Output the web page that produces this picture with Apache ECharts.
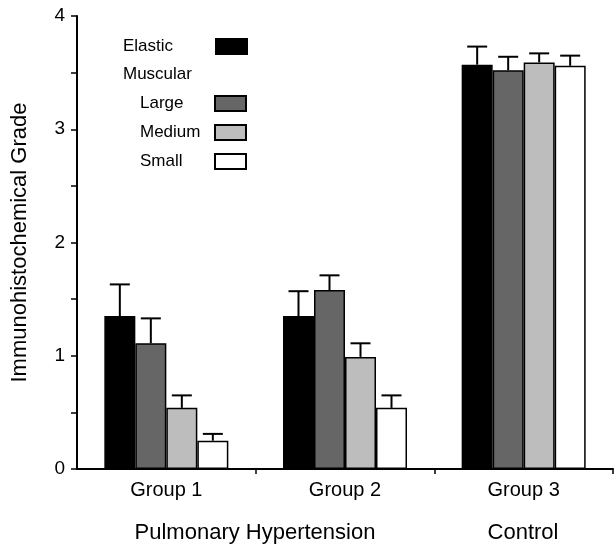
<!DOCTYPE html>
<html>
<head>
<meta charset="utf-8">
<script src="https://cdn.jsdelivr.net/npm/echarts@6/dist/echarts.min.js"></script>
<style>
html,body{margin:0;padding:0;background:#fff;}
#chart{width:615px;height:545px;}
</style>
</head>
<body>
<div id="chart"></div>
<script>
/* ---------- data ---------- */
const groups = ['Group 1','Group 2','Group 3'];
const seriesNames = ['Elastic','Large','Medium','Small'];
const elastic  = [1.35, 1.35, 3.57];
const large    = [1.11, 1.58, 3.52];
const medium   = [0.54, 0.99, 3.59];
const small    = [0.25, 0.54, 3.56];
const elasticErr = [0.28, 0.22, 0.16];
const largeErr   = [0.22, 0.13, 0.12];
const mediumErr  = [0.11, 0.12, 0.08];
const smallErr   = [0.06, 0.11, 0.09];
const yTicks = [0,1,2,3,4];

const values = [elastic, large, medium, small];
const errs = [elasticErr, largeErr, mediumErr, smallErr];
const fills = ['#000000','#666666','#bdbdbd','#ffffff'];
const BAR_W = 31;
const FONT = 'Liberation Sans, Arial, sans-serif';

/* ---------- series ---------- */
const series = [];
values.forEach((vals,i)=>{
  series.push({
    name: seriesNames[i], type:'bar', data: vals,
    barWidth: BAR_W, barGap: '0%',
    itemStyle:{color: fills[i], borderColor:'#000', borderWidth:1.5},
    silent:true
  });
});
// error bars (upper only), drawn over each bar's centre
values.forEach((vals,i)=>{
  series.push({
    type:'custom', silent:true, z:1,
    data: vals.map((v,k)=>[k, v, v+errs[i][k]]),
    renderItem:(params, api)=>{
      const c = api.coord([api.value(0), api.value(1)]);
      const top = api.coord([api.value(0), api.value(2)]);
      const x = c[0] + (i-1.5)*BAR_W;
      const st = {stroke:'#000', lineWidth:2};
      return {type:'group', children:[
        {type:'line', shape:{x1:x,y1:c[1],x2:x,y2:top[1]}, style:st},
        {type:'line', shape:{x1:x-10,y1:top[1],x2:x+10,y2:top[1]}, style:st}
      ]};
    }
  });
});

const chart = echarts.init(document.getElementById('chart'));
const legendText = w => ({fontFamily:FONT, fontSize:17, color:'#000', lineHeight:15,
  rich:{a:{width:w, align:'left', fontFamily:FONT, fontSize:17, color:'#000', lineHeight:15}}});
const legendBase = {
  orient:'vertical', align:'right', itemWidth:31, itemHeight:15, itemGap:12,
  icon:'rect', selectedMode:false, padding:0,
  formatter:n=>'{a|'+n+'}'
};
chart.setOption({
  animation:false,
  grid:{left:77, right:2, top:16, bottom:76, outerBoundsMode:'none', containLabel:false},
  xAxis:{
    type:'category', data: groups,
    axisLine:{lineStyle:{color:'#000', width:2}},
    axisTick:{show:true, length:5, interval:(i)=> i>0 && i<3, lineStyle:{color:'#000', width:1.5}},
    axisLabel:{color:'#000', fontFamily:FONT, fontSize:20, margin:11}
  },
  yAxis:{
    type:'value', min:0, max:4, interval:0.5,
    name:'Immunohistochemical Grade', nameLocation:'middle', nameGap:46, nameRotate:90,
    nameTextStyle:{color:'#000', fontFamily:FONT, fontSize:22},
    axisLine:{show:true, lineStyle:{color:'#000', width:2}},
    axisTick:{show:true, length:6, lineStyle:{color:'#000', width:1.5}},
    splitLine:{show:false},
    axisLabel:{color:'#000', fontFamily:FONT, fontSize:19, margin:12,
      formatter: v => yTicks.includes(v) ? String(v) : ''}
  },
  legend:[
    Object.assign({}, legendBase, {data:['Elastic'], left:123, top:38, textStyle:legendText(88)}),
    Object.assign({}, legendBase, {data:['Large','Medium','Small'], left:140, top:95, textStyle:legendText(70)})
  ],
  graphic:[
    {type:'text', x:123, y:74, style:{text:'Muscular', font:'17px '+FONT, fill:'#000', textVerticalAlign:'middle'}},
    {type:'text', x:255, y:533, style:{text:'Pulmonary Hypertension', font:'22px '+FONT, fill:'#000', textAlign:'center', textVerticalAlign:'middle'}},
    {type:'text', x:523, y:533, style:{text:'Control', font:'22px '+FONT, fill:'#000', textAlign:'center', textVerticalAlign:'middle'}}
  ],
  series: series
});
</script>
</body>
</html>
